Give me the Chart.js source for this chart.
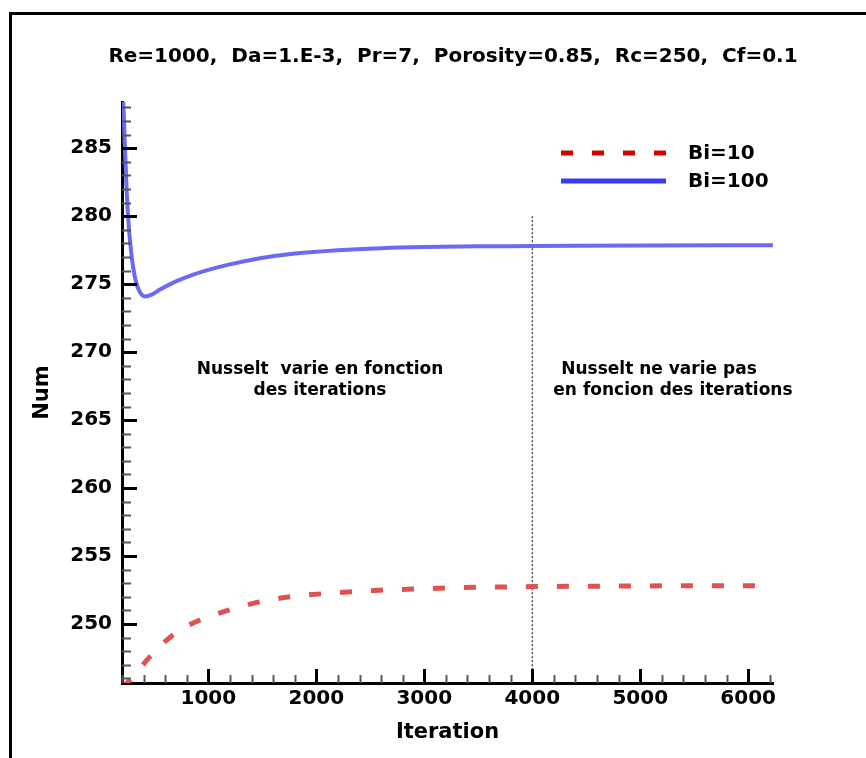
<!DOCTYPE html>
<html>
<head>
<meta charset="utf-8">
<script src="https://cdn.jsdelivr.net/npm/chart.js@4.4.1/dist/chart.umd.min.js"></script>
<style>
  html, body { margin: 0; padding: 0; background: #fff; }
  #wrap { width: 866px; height: 758px; position: relative; }
</style>
</head>
<body>
<div id="wrap"><canvas id="nuChart" width="866" height="758"></canvas></div>
<script>
// data
const titleText = 'Re=1000,  Da=1.E-3,  Pr=7,  Porosity=0.85,  Rc=250,  Cf=0.1'
const seriesLabels = ['Bi=10', 'Bi=100']

const bi10Iter = [200, 290, 459, 672, 922, 1181, 1459, 1756, 2100, 2500, 3000, 3500, 4000, 5000, 6230]
const bi10Nu   = [245.3, 246.0, 247.6, 249.2, 250.3, 251.0, 251.6, 252.0, 252.25, 252.45, 252.6, 252.7, 252.75, 252.8, 252.82]

const bi100Iter = [200, 212, 228, 243, 258, 274, 295, 320, 360, 413, 480, 552, 700, 860, 1000, 1169, 1478, 1800, 2200, 2600, 3000, 3500, 4000, 5000, 6230]
const bi100Nu   = [289.5, 288.3, 284.9, 281.9, 279.8, 278.2, 276.7, 275.5, 274.5, 274.1, 274.25, 274.6, 275.2, 275.7, 276.05, 276.4, 276.9, 277.25, 277.5, 277.65, 277.73, 277.78, 277.8, 277.85, 277.87]

const splitIter = [4000, 4000]
const splitNu   = [280, 245.66]

const xTicks = [1000, 2000, 3000, 4000, 5000, 6000]
const yTicks = [250, 255, 260, 265, 270, 275, 280, 285]

const noteLeft  = ['Nusselt  varie en fonction', 'des iterations']
const noteRight = ['Nusselt ne varie pas', ' en foncion des iterations']

const xMin = 200, xMax = 6230
const yMin = 245.66, yMax = 288.4

const pts = (xs, ys) => xs.map((x, i) => ({x: x, y: ys[i]}))

const FONT = '"DejaVu Sans", Verdana, sans-serif'

const extras = {
    id: 'extras',
    beforeDraw(chart) {
        const ctx = chart.ctx
        ctx.save()
        ctx.fillStyle = '#fff'
        ctx.fillRect(0, 0, chart.width, chart.height)
        // outer frame
        ctx.strokeStyle = '#000'
        ctx.lineWidth = 3
        ctx.beginPath()
        ctx.moveTo(10.5, chart.height + 2)
        ctx.lineTo(10.5, 13.5)
        ctx.lineTo(chart.width + 2, 13.5)
        ctx.stroke()
        ctx.restore()
    },
    afterDraw(chart) {
        const ctx = chart.ctx
        const xs = chart.scales.x, ys = chart.scales.y
        const area = chart.chartArea
        ctx.save()
        // inward ticks
        ctx.lineCap = 'butt'
        for (let v = 200; v <= xMax; v += 200) {
            const major = v % 1000 === 0
            const px = Math.round(xs.getPixelForValue(v)) + 0.5
            ctx.strokeStyle = major ? '#000' : '#555'
            ctx.lineWidth = major ? 3 : 2
            ctx.beginPath()
            ctx.moveTo(px, area.bottom)
            ctx.lineTo(px, area.bottom - (major ? 14 : 8))
            ctx.stroke()
        }
        for (let v = 246; v <= yMax; v += 1) {
            const major = v % 5 === 0
            const py = Math.round(ys.getPixelForValue(v)) + 0.5
            ctx.strokeStyle = major ? '#000' : '#555'
            ctx.lineWidth = major ? 3 : 2
            ctx.beginPath()
            ctx.moveTo(area.left, py)
            ctx.lineTo(area.left + (major ? 15 : 9), py)
            ctx.stroke()
        }

        // title
        ctx.fillStyle = '#000'
        ctx.textAlign = 'center'
        ctx.textBaseline = 'middle'
        ctx.font = 'bold 20px ' + FONT
        ctx.fillText(titleText, 453, 57)

        // legend
        ctx.lineWidth = 5
        ctx.strokeStyle = '#d40000'
        ctx.setLineDash([12, 19])
        ctx.beginPath()
        ctx.moveTo(561, 153)
        ctx.lineTo(667, 153)
        ctx.stroke()
        ctx.setLineDash([])
        ctx.strokeStyle = '#3a3af5'
        ctx.beginPath()
        ctx.moveTo(561, 181)
        ctx.lineTo(666, 181)
        ctx.stroke()
        ctx.textAlign = 'left'
        ctx.font = 'bold 20px ' + FONT
        ctx.fillText(seriesLabels[0], 688, 154)
        ctx.fillText(seriesLabels[1], 688, 182)

        // notes
        ctx.textAlign = 'center'
        ctx.font = 'bold 17px ' + FONT
        ctx.fillText(noteLeft[0], 320, 370)
        ctx.fillText(noteLeft[1], 320, 391)
        ctx.fillText(noteRight[0], 659, 370)
        ctx.fillText(noteRight[1], 670, 391)
        ctx.restore()
    }
}

new Chart(document.getElementById('nuChart').getContext('2d'), {
    type: 'line',
    data: {
        datasets: [{
            label: seriesLabels[0],
            data: pts(bi10Iter, bi10Nu),
            borderColor: '#e05252',
            borderWidth: 5,
            borderDash: [12, 19],
            pointRadius: 0,
            cubicInterpolationMode: 'monotone',
            clip: 0
        }, {
            label: seriesLabels[1],
            data: pts(bi100Iter, bi100Nu),
            borderColor: '#6a6af2',
            borderWidth: 4,
            pointRadius: 0,
            cubicInterpolationMode: 'monotone',
            clip: 0
        }, {
            label: 'split',
            data: pts(splitIter, splitNu),
            borderColor: '#000',
            borderWidth: 1,
            borderDash: [2, 2],
            pointRadius: 0,
            clip: 0
        }]
    },
    options: {
        responsive: false,
        animation: false,
        devicePixelRatio: 1,
        layout: { padding: { left: 0, top: 102, right: 93, bottom: 0 } },
        plugins: {
            legend: { display: false },
            tooltip: { enabled: false }
        },
        scales: {
            x: {
                type: 'linear',
                min: xMin,
                max: xMax,
                afterBuildTicks: (s) => { s.ticks = xTicks.map(v => ({value: v})) },
                afterFit: (s) => { s.height = 75 },
                grid: { display: false, drawTicks: false },
                border: { color: '#000', width: 3 },
                ticks: {
                    padding: 4,
                    color: '#000',
                    font: { family: FONT, size: 20, weight: 'bold' },
                    maxRotation: 0,
                    callback: (v) => String(v)
                },
                title: {
                    display: true,
                    text: 'Iteration',
                    color: '#000',
                    font: { family: FONT, size: 21, weight: 'bold' },
                    padding: { top: 13, bottom: 13 }
                }
            },
            y: {
                type: 'linear',
                min: yMin,
                max: yMax,
                afterBuildTicks: (s) => { s.ticks = yTicks.map(v => ({value: v})) },
                afterFit: (s) => { s.width = 122 },
                grid: { display: false, drawTicks: false },
                border: { color: '#000', width: 3 },
                ticks: {
                    padding: 10,
                    color: '#000',
                    font: { family: FONT, size: 20, weight: 'bold' },
                    callback: (v) => String(v)
                },
                title: {
                    display: true,
                    text: 'Num',
                    color: '#000',
                    font: { family: FONT, size: 21, weight: 'bold' },
                    padding: { top: 30, bottom: 0 }
                }
            }
        }
    },
    plugins: [extras]
})
</script>
</body>
</html>
